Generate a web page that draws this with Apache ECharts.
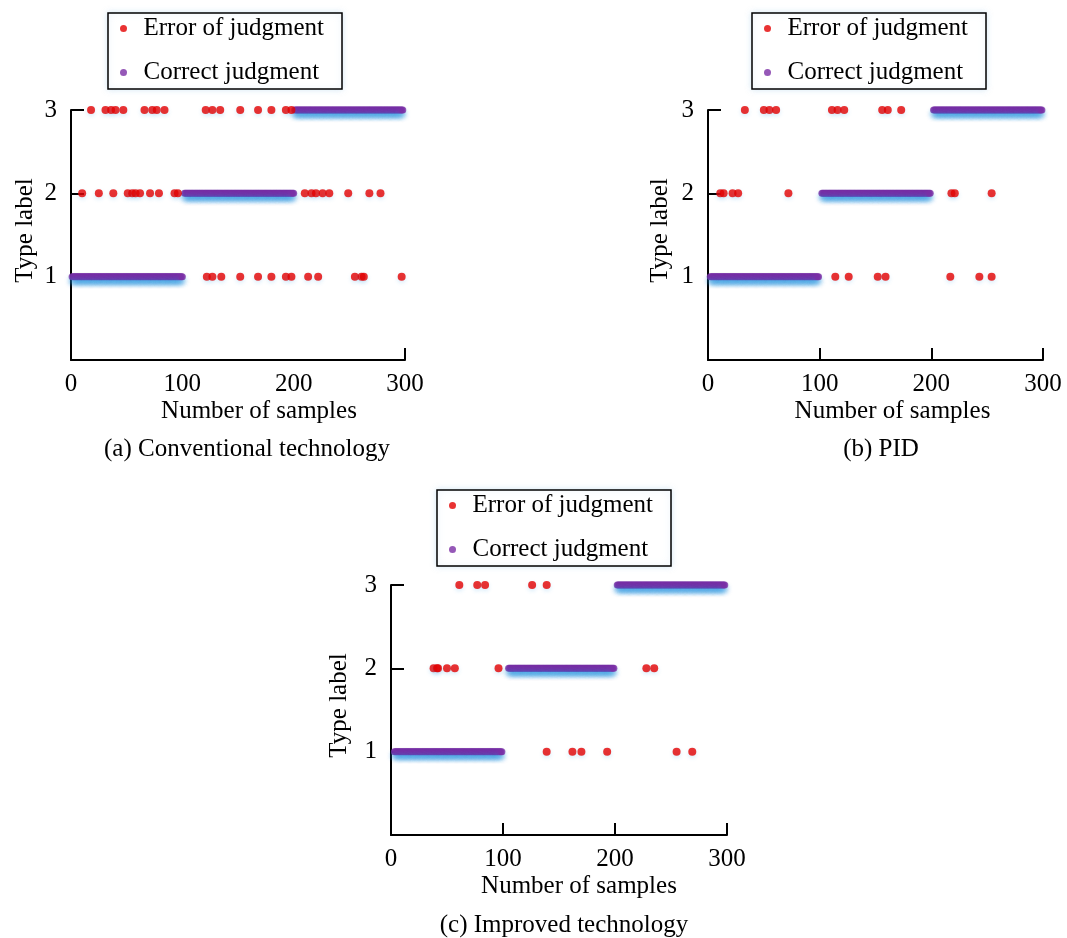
<!DOCTYPE html>
<html><head><meta charset="utf-8">
<script src="https://cdn.jsdelivr.net/npm/echarts@6/dist/echarts.min.js"></script>
<style>html,body{margin:0;padding:0;background:#fff}#c{width:1067px;height:938px}</style>
</head><body><div id="c"></div>
<script>
// ---------- data ----------
const xTickValues = [0, 100, 200, 300];
const yTickValues = [1, 2, 3];
const seriesNames = ['Error of judgment', 'Correct judgment'];
const captions = ['(a) Conventional technology', '(b) PID', '(c) Improved technology'];

// error of judgment: sample numbers at each predicted type label
const errA3 = [18, 31, 36, 40, 47, 66, 73, 77, 84, 121, 127, 134, 152, 168, 180, 193, 198];
const errA2 = [10, 25, 38, 51, 55, 58, 62, 71, 79, 93, 96, 210, 216, 220, 226, 232, 249, 268, 278];
const errA1 = [122, 127, 135, 152, 168, 180, 193, 198, 213, 222, 255, 261, 263, 297];

const errB3 = [33, 50, 55, 61, 111, 116, 122, 156, 161, 173];
const errB2 = [11, 14, 22, 27, 72, 218, 221, 254];
const errB1 = [114, 126, 152, 159, 217, 243, 254];

const errC3 = [61, 77, 84, 126, 139];
const errC2 = [38, 41, 42, 50, 57, 96, 228, 235];
const errC1 = [139, 162, 170, 193, 255, 269];

// correct judgment: [first sample, last sample, type label]
const corrA = [[1, 100, 1], [102, 200, 2], [201, 298, 3]];
const corrB = [[2, 99, 1], [102, 199, 2], [202, 299, 3]];
const corrC = [[3, 99, 1], [105, 199, 2], [202, 298, 3]];

// ---------- build ----------
function errPoints(e1, e2, e3) {
  const out = [];
  e1.forEach(x => out.push([x, 1]));
  e2.forEach(x => out.push([x, 2]));
  e3.forEach(x => out.push([x, 3]));
  return out;
}
function corrPoints(ranges) {
  const out = [];
  ranges.forEach(([a, b, lab]) => { for (let s = a; s <= b; s++) out.push([s, lab]); });
  return out;
}

const FONT = 'Liberation Serif';
const FS = 25;
const panels = [
  { grid: { left: 71, top: 110, width: 334, height: 250 }, err: errPoints(errA1, errA2, errA3), corr: corrPoints(corrA),
    legend: { left: 108, top: 13 }, xPad: 42, yGap: 33, caption: [247, 449], xTickCustom: [300] },
  { grid: { left: 708, top: 110, width: 335, height: 250 }, err: errPoints(errB1, errB2, errB3), corr: corrPoints(corrB),
    legend: { left: 752, top: 13 }, xPad: 34, yGap: 35, caption: [881, 449], xTickCustom: null },
  { grid: { left: 391, top: 585, width: 336, height: 250 }, err: errPoints(errC1, errC2, errC3), corr: corrPoints(corrC),
    legend: { left: 437, top: 490 }, xPad: 40, yGap: 39, caption: [564, 925], xTickCustom: null }
];

const option = {
  backgroundColor: '#fff',
  animation: false,
  textStyle: { fontFamily: FONT, color: '#000' },
  grid: [], xAxis: [], yAxis: [], series: [], legend: [], graphic: []
};

panels.forEach((p, i) => {
  option.grid.push(Object.assign({ containLabel: false }, p.grid));
  const xTick = { show: true, inside: true, length: 12, lineStyle: { color: '#000', width: 2 } };
  if (p.xTickCustom) xTick.customValues = p.xTickCustom;
  option.xAxis.push({
    type: 'value', gridIndex: i, min: xTickValues[0], max: xTickValues[xTickValues.length - 1], interval: 100,
    name: 'Number of samples', nameLocation: 'middle', nameGap: 39,
    nameTextStyle: { fontFamily: FONT, fontSize: FS, color: '#000', padding: [0, 0, 0, p.xPad] },
    axisLine: { show: true, onZero: false, lineStyle: { color: '#000', width: 2 } },
    axisTick: xTick,
    axisLabel: { fontFamily: FONT, fontSize: FS, color: '#000', margin: 12,
      formatter: v => xTickValues.includes(v) ? String(v) : '' },
    splitLine: { show: false }
  });
  option.yAxis.push({
    type: 'value', gridIndex: i, min: 0, max: 3, interval: 1,
    name: 'Type label', nameLocation: 'middle', nameGap: p.yGap,
    nameTextStyle: { fontFamily: FONT, fontSize: FS, color: '#000', padding: [0, 0, 0, 9] },
    axisLine: { show: true, onZero: false, lineStyle: { color: '#000', width: 2 } },
    axisTick: { show: true, inside: true, length: 13, lineStyle: { color: '#000', width: 2 } },
    axisLabel: { fontFamily: FONT, fontSize: FS, color: '#000', margin: 14,
      formatter: v => yTickValues.includes(v) ? String(v) : '' },
    splitLine: { show: false }
  });
  option.series.push({
    name: seriesNames[1], type: 'scatter', xAxisIndex: i, yAxisIndex: i, data: p.corr,
    symbol: 'circle', symbolSize: 7, clip: false, z: 2,
    itemStyle: { color: '#7b2ea5', shadowColor: 'rgba(40,150,225,0.35)', shadowBlur: 5, shadowOffsetY: 4 }
  });
  option.series.push({
    name: seriesNames[0], type: 'scatter', xAxisIndex: i, yAxisIndex: i, data: p.err,
    symbol: 'circle', symbolSize: 8, clip: false, z: 3,
    itemStyle: { color: '#e40000', shadowColor: 'rgba(60,160,230,0.25)', shadowBlur: 4, shadowOffsetY: 2 }
  });
  option.legend.push({
    left: p.legend.left, top: p.legend.top, orient: 'vertical',
    data: seriesNames, icon: 'circle', itemWidth: 30, itemHeight: 7, itemGap: 19,
    padding: [3, 18, 4, 12], borderColor: '#000', borderWidth: 1.5, backgroundColor: '#fff',
    shadowColor: 'rgba(150,195,230,0.35)', shadowBlur: 6,
    textStyle: { fontFamily: FONT, fontSize: FS, color: '#000' },
    selectedMode: false
  });
  option.graphic.push({
    type: 'text', x: p.caption[0], y: p.caption[1],
    style: { text: captions[i], fontFamily: FONT, fontSize: FS, fill: '#000', align: 'center', verticalAlign: 'middle' }
  });
});

const chart = echarts.init(document.getElementById('c'), null, { renderer: 'canvas' });
chart.setOption(option);
</script>
</body></html>
